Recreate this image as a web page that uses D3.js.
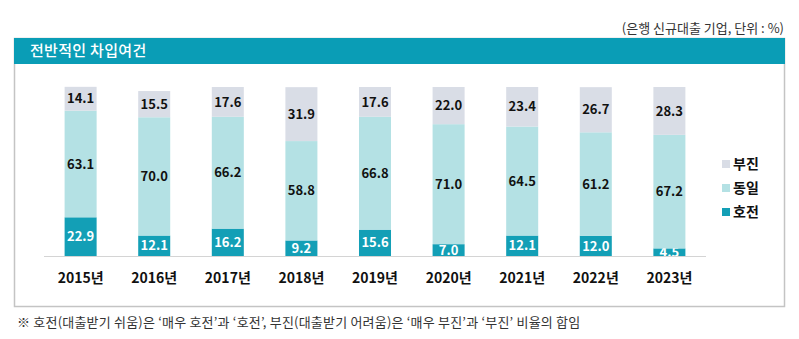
<!DOCTYPE html>
<html>
<head>
<meta charset="utf-8">
<script src="https://cdn.jsdelivr.net/npm/d3@7"></script>
<style>
  body { margin: 0; background: #fff; }
  text { font-family: "Noto Sans CJK KR", "Noto Sans", sans-serif; }
</style>
</head>
<body>
<div id="chart"></div>
<script>
// Data
const years = ["2015년", "2016년", "2017년", "2018년", "2019년", "2020년", "2021년", "2022년", "2023년"];
const improved = [22.9, 12.1, 16.2, 9.2, 15.6, 7.0, 12.1, 12.0, 4.5];   // 호전
const same = [63.1, 70.0, 66.2, 58.8, 66.8, 71.0, 64.5, 61.2, 67.2];     // 동일
const worse = [14.1, 15.5, 17.6, 31.9, 17.6, 22.0, 23.4, 26.7, 28.3];    // 부진
const seriesNames = ["호전", "동일", "부진"];
const legendOrder = ["부진", "동일", "호전"];

const colors = { "호전": "#139fb6", "동일": "#b4e1e4", "부진": "#d9dde6" };

const dimensions = { width: 799, height: 339 };

const rows = years.map((y, i) => ({
  year: y,
  "호전": improved[i],
  "동일": same[i],
  "부진": worse[i],
}));

const stacked = d3.stack().keys(seriesNames)(rows);

const svg = d3
  .select("#chart")
  .append("svg")
  .attr("width", dimensions.width)
  .attr("height", dimensions.height);

// Panel frame + title band
svg.append("rect")
  .attr("x", 14.5).attr("y", 38.5)
  .attr("width", 770).attr("height", 268)
  .attr("fill", "#fff")
  .attr("stroke", "#c4c4c4").attr("stroke-width", 1.5);

svg.append("rect")
  .attr("x", 14).attr("y", 38)
  .attr("width", 771).attr("height", 26)
  .attr("fill", "#0a9db6");

svg.append("text")
  .attr("x", 30).attr("y", 56)
  .attr("fill", "#fff")
  .style("font-size", "15px")
  .style("font-weight", 500)
  .style("letter-spacing", "0.3px")
  .text("전반적인  차입여건");

svg.append("text")
  .attr("x", 784).attr("y", 33)
  .attr("text-anchor", "end")
  .attr("fill", "#333")
  .style("font-size", "13px")
  .text("(은행 신규대출 기업, 단위 : %)");

// Scales
const xScale = d3.scaleBand()
  .domain(years)
  .range([44, 706])
  .paddingInner(0.565)
  .paddingOuter(0.28);

const yScale = d3.scaleLinear()
  .domain([0, 100])
  .range([256, 87]);

const ctr = svg.append("g");

// Bars
const layers = ctr.selectAll("g.layer")
  .data(stacked)
  .join("g")
  .attr("class", "layer")
  .attr("fill", (d) => colors[d.key]);

layers.selectAll("rect")
  .data((d) => d)
  .join("rect")
  .attr("x", (d) => xScale(d.data.year))
  .attr("width", xScale.bandwidth())
  .attr("y", (d) => yScale(d[1]))
  .attr("height", (d) => yScale(d[0]) - yScale(d[1]));

// Baseline
ctr.append("line")
  .attr("x1", 44).attr("x2", 706)
  .attr("y1", yScale(0) + 0.5).attr("y2", yScale(0) + 0.5)
  .attr("stroke", "#d4d4d4").attr("stroke-width", 1);

// Value labels
layers.each(function (layer) {
  d3.select(this)
    .selectAll("text")
    .data(layer)
    .join("text")
    .attr("x", (d) => xScale(d.data.year) + xScale.bandwidth() / 2)
    .attr("y", (d) => (yScale(d[0]) + yScale(d[1])) / 2)
    .attr("dy", "0.36em")
    .attr("text-anchor", "middle")
    .attr("fill", layer.key === "호전" ? "#fff" : "#111")
    .style("font-size", "13px")
    .style("font-weight", "bold")
    .text((d) => d.data[layer.key].toFixed(1));
});

// Year labels
ctr.append("g")
  .attr("transform", `translate(0, ${yScale(0)})`)
  .call(d3.axisBottom(xScale).tickSize(0).tickPadding(17))
  .call((g) => g.select(".domain").remove())
  .selectAll("text")
  .attr("fill", "#111")
  .style("font-size", "14px")
  .style("font-weight", "bold")
  .style("font-family", "'Noto Sans CJK KR', sans-serif");

// Legend
const legendY = d3.scalePoint().domain(legendOrder).range([164, 212]);
const legend = svg.append("g")
  .selectAll("g")
  .data(legendOrder)
  .join("g")
  .attr("transform", (d) => `translate(722, ${legendY(d)})`);

legend.append("rect")
  .attr("x", 0).attr("y", -4)
  .attr("width", 8).attr("height", 8)
  .attr("fill", (d) => colors[d]);

legend.append("text")
  .attr("x", 11).attr("dy", "0.36em")
  .attr("fill", "#111")
  .style("font-size", "14px")
  .style("font-weight", "bold")
  .text((d) => d);

// Footnote
svg.append("text")
  .attr("x", 17).attr("y", 327)
  .attr("fill", "#333")
  .style("font-size", "13px")
  .style("letter-spacing", "0.2px")
  .text("※ 호전(대출받기 쉬움)은 ‘매우 호전’과 ‘호전’, 부진(대출받기 어려움)은 ‘매우 부진’과 ‘부진’ 비율의 합임");
</script>
</body>
</html>
